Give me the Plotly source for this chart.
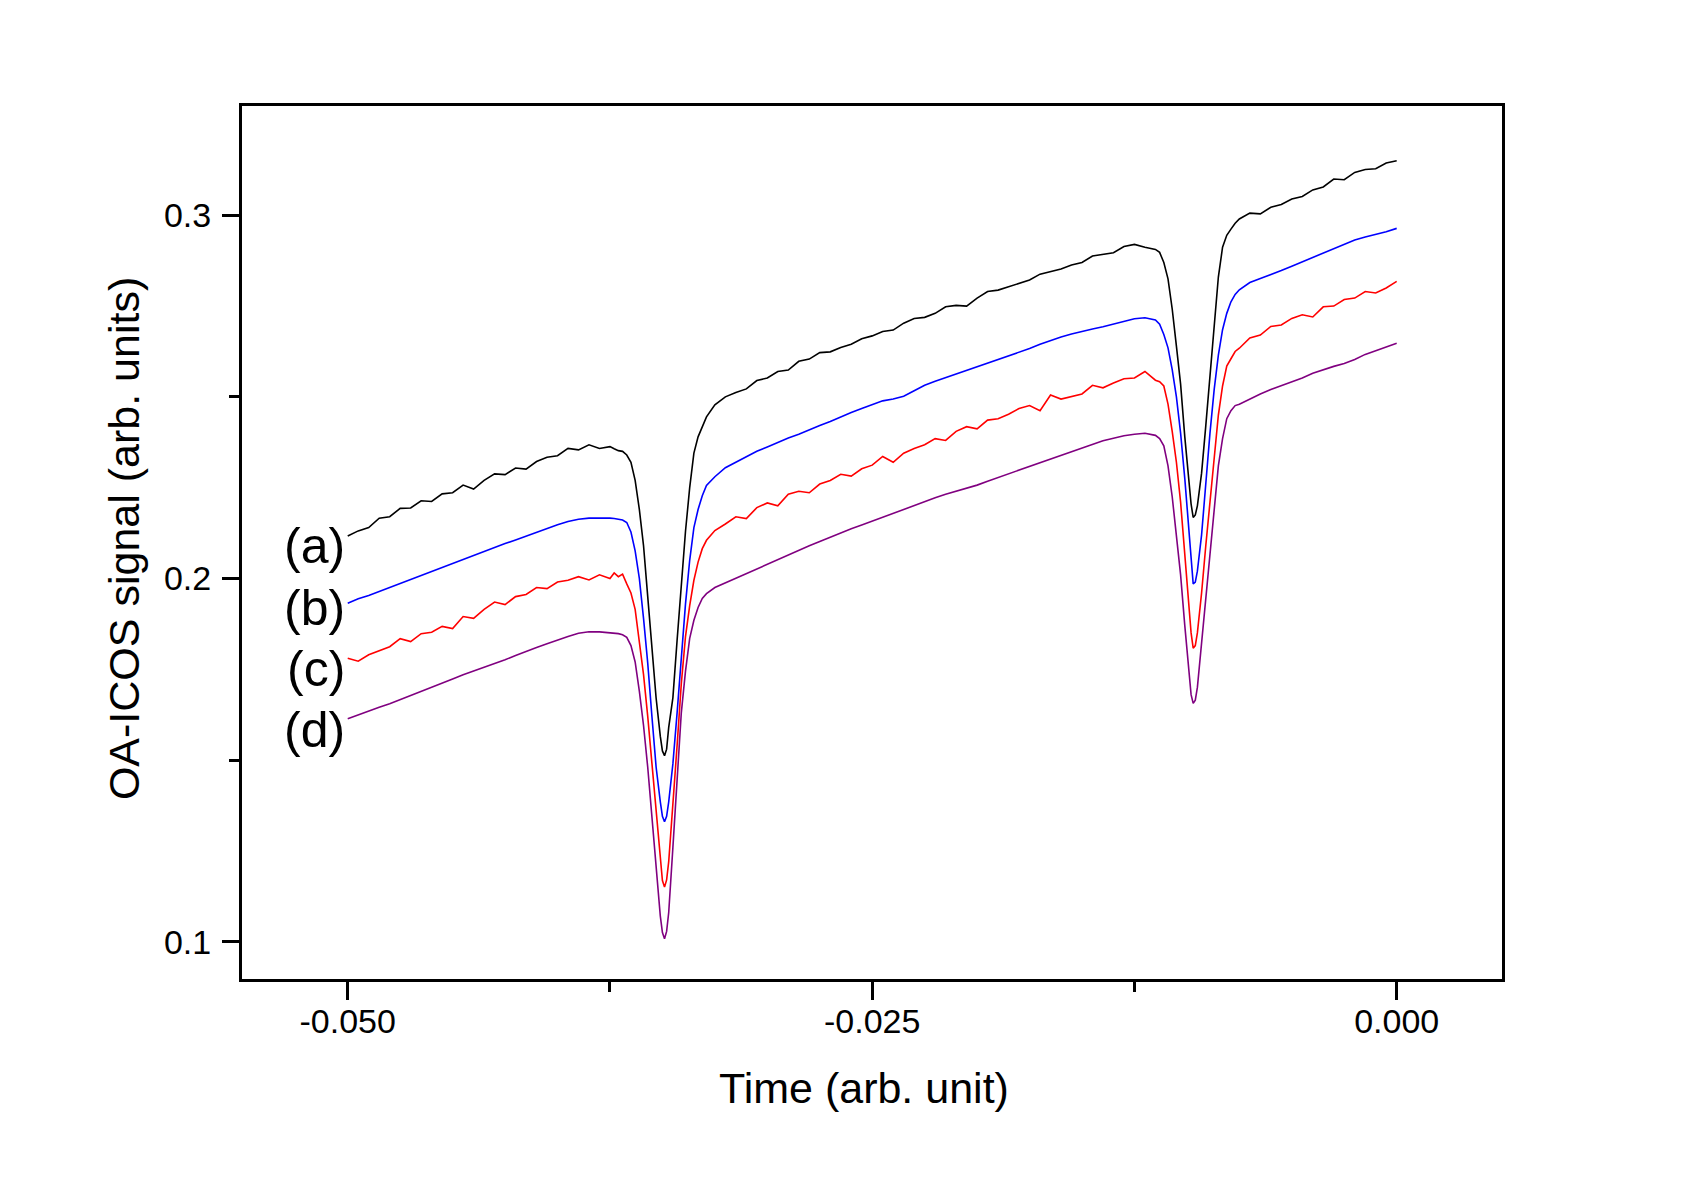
import plotly.graph_objects as go

# ---------------- data ----------------
TIME = [
    -0.0500, -0.0495, -0.0490, -0.0485, -0.0480, -0.0475, -0.0470, -0.0465, -0.0460, -0.0455,
    -0.0450, -0.0445, -0.0440, -0.0435, -0.0430, -0.0425, -0.0420, -0.0415, -0.0410, -0.0405,
    -0.0400, -0.0395, -0.0390, -0.0385, -0.0380, -0.0375,
    -0.0373, -0.0371, -0.0369, -0.0367, -0.0365, -0.0363, -0.0361, -0.0359, -0.0357, -0.0355,
    -0.0353, -0.0351, -0.0350, -0.0349, -0.0348, -0.0347, -0.0345, -0.0343, -0.0341, -0.0339,
    -0.0337, -0.0335, -0.0333, -0.0331, -0.0329,
    -0.0325, -0.0320, -0.0315, -0.0310, -0.0305, -0.0300, -0.0295, -0.0290, -0.0285, -0.0280,
    -0.0275, -0.0270, -0.0265, -0.0260, -0.0255, -0.0250, -0.0245, -0.0240, -0.0235, -0.0230,
    -0.0225, -0.0220, -0.0215, -0.0210, -0.0205, -0.0200, -0.0195, -0.0190, -0.0185, -0.0180,
    -0.0175, -0.0170, -0.0165, -0.0160, -0.0155, -0.0150, -0.0145, -0.0140, -0.0135, -0.0130,
    -0.0125, -0.0120, -0.0115,
    -0.0113, -0.0111, -0.0109, -0.0107, -0.0105, -0.0103, -0.0101, -0.0099, -0.0098, -0.0097,
    -0.0096, -0.0095, -0.0093, -0.0091, -0.0089, -0.0087, -0.0085, -0.0083, -0.0081, -0.0079,
    -0.0077,
    -0.0075, -0.0070, -0.0065, -0.0060, -0.0055, -0.0050, -0.0045, -0.0040, -0.0035, -0.0030,
    -0.0025, -0.0020, -0.0015, -0.0010, -0.0005, 0.0000,
]

SIGNAL_A = [
    0.2117, 0.2131, 0.2140, 0.2166, 0.2170, 0.2193, 0.2194, 0.2214, 0.2212, 0.2233,
    0.2236, 0.2257, 0.2246, 0.2270, 0.2288, 0.2286, 0.2304, 0.2301, 0.2322, 0.2334,
    0.2338, 0.2358, 0.2354, 0.2368, 0.2358, 0.2363,
    0.2357, 0.2352, 0.2350, 0.2340, 0.2320, 0.2270, 0.2190, 0.2090, 0.1950, 0.1800,
    0.1670, 0.1565, 0.1525, 0.1512, 0.1530, 0.1590, 0.1672, 0.1830, 0.1990, 0.2130,
    0.2250, 0.2345, 0.2390, 0.2418, 0.2445,
    0.2478, 0.2500, 0.2512, 0.2522, 0.2545, 0.2552, 0.2570, 0.2574, 0.2598, 0.2604,
    0.2622, 0.2624, 0.2636, 0.2645, 0.2660, 0.2668, 0.2680, 0.2684, 0.2703, 0.2716,
    0.2719, 0.2730, 0.2748, 0.2752, 0.2750, 0.2772, 0.2790, 0.2794, 0.2803, 0.2812,
    0.2822, 0.2838, 0.2846, 0.2852, 0.2863, 0.2870, 0.2888, 0.2893, 0.2897, 0.2914,
    0.2920, 0.2912, 0.2906,
    0.2898, 0.2870, 0.2825, 0.2742, 0.2640, 0.2535, 0.2390, 0.2262, 0.2205, 0.2168,
    0.2175, 0.2200, 0.2290, 0.2420, 0.2560, 0.2715, 0.2830, 0.2912, 0.2945, 0.2962,
    0.2978,
    0.2990, 0.3006, 0.3004, 0.3022, 0.3030, 0.3045, 0.3052, 0.3070, 0.3078, 0.3100,
    0.3098, 0.3118, 0.3126, 0.3128, 0.3144, 0.3150,
]

SIGNAL_B = [
    0.1932, 0.1944, 0.1953, 0.1964, 0.1975, 0.1986, 0.1997, 0.2010, 0.2021, 0.2031,
    0.2042, 0.2053, 0.2064, 0.2074, 0.2085, 0.2096, 0.2106, 0.2117, 0.2128, 0.2138,
    0.2148, 0.2157, 0.2163, 0.2166, 0.2167, 0.2166,
    0.2165, 0.2164, 0.2161, 0.2154, 0.2128, 0.2076, 0.2000, 0.1890, 0.1767, 0.1620,
    0.1480, 0.1385, 0.1345, 0.1330, 0.1345, 0.1385, 0.1490, 0.1630, 0.1780, 0.1930,
    0.2050, 0.2140, 0.2190, 0.2228, 0.2256,
    0.2280, 0.2305, 0.2320, 0.2335, 0.2350, 0.2362, 0.2375, 0.2387, 0.2397, 0.2410,
    0.2421, 0.2432, 0.2445, 0.2457, 0.2468, 0.2479, 0.2489, 0.2494, 0.2502, 0.2517,
    0.2532, 0.2543, 0.2553, 0.2563, 0.2573, 0.2584, 0.2594, 0.2603, 0.2612, 0.2622,
    0.2633, 0.2645, 0.2656, 0.2665, 0.2673, 0.2681, 0.2687, 0.2693, 0.2700, 0.2708,
    0.2715, 0.2718, 0.2712,
    0.2700, 0.2672, 0.2635, 0.2575, 0.2500, 0.2400, 0.2275, 0.2130, 0.2040, 0.1985,
    0.1990, 0.2020, 0.2120, 0.2265, 0.2400, 0.2520, 0.2615, 0.2685, 0.2730, 0.2762,
    0.2782,
    0.2795, 0.2815, 0.2826, 0.2836, 0.2848, 0.2860, 0.2872, 0.2884, 0.2897, 0.2910,
    0.2921, 0.2932, 0.2940, 0.2947, 0.2955, 0.2964,
]

SIGNAL_C = [
    0.1780, 0.1772, 0.1790, 0.1800, 0.1812, 0.1834, 0.1826, 0.1848, 0.1852, 0.1868,
    0.1862, 0.1895, 0.1890, 0.1915, 0.1935, 0.1928, 0.1950, 0.1956, 0.1975, 0.1972,
    0.1990, 0.1995, 0.2005, 0.1996, 0.2010, 0.2000,
    0.2015, 0.2005, 0.2012, 0.1985, 0.1960, 0.1915, 0.1830, 0.1735, 0.1620, 0.1490,
    0.1340, 0.1210, 0.1168, 0.1150, 0.1170, 0.1220, 0.1370, 0.1540, 0.1710, 0.1840,
    0.1925, 0.1995, 0.2045, 0.2082, 0.2105,
    0.2132, 0.2150, 0.2170, 0.2165, 0.2195, 0.2208, 0.2200, 0.2232, 0.2240, 0.2236,
    0.2260, 0.2270, 0.2287, 0.2282, 0.2302, 0.2312, 0.2336, 0.2320, 0.2345, 0.2358,
    0.2368, 0.2385, 0.2380, 0.2405, 0.2418, 0.2412, 0.2436, 0.2440, 0.2452, 0.2468,
    0.2476, 0.2462, 0.2505, 0.2494, 0.2502, 0.2508, 0.2532, 0.2525, 0.2538, 0.2550,
    0.2552, 0.2570, 0.2546,
    0.2542, 0.2530, 0.2480, 0.2405, 0.2320, 0.2210, 0.2070, 0.1920, 0.1850, 0.1808,
    0.1815, 0.1850, 0.1960, 0.2090, 0.2210, 0.2330, 0.2450, 0.2530, 0.2585, 0.2605,
    0.2625,
    0.2634, 0.2662, 0.2670, 0.2694, 0.2698, 0.2716, 0.2726, 0.2720, 0.2748, 0.2750,
    0.2768, 0.2772, 0.2790, 0.2786, 0.2800, 0.2818,
]

SIGNAL_D = [
    0.1614, 0.1625, 0.1635, 0.1645, 0.1655, 0.1666, 0.1677, 0.1689, 0.1700, 0.1712,
    0.1723, 0.1735, 0.1745, 0.1755, 0.1765, 0.1776, 0.1788, 0.1800, 0.1810, 0.1820,
    0.1831, 0.1840, 0.1849, 0.1853, 0.1853, 0.1851,
    0.1850, 0.1848, 0.1845, 0.1838, 0.1815, 0.1770, 0.1690, 0.1595, 0.1480, 0.1345,
    0.1200, 0.1070, 0.1025, 0.1008, 0.1028, 0.1080, 0.1260, 0.1450, 0.1630, 0.1745,
    0.1835, 0.1885, 0.1920, 0.1945, 0.1958,
    0.1975, 0.1988, 0.2000, 0.2014, 0.2027, 0.2040, 0.2053, 0.2065, 0.2078, 0.2090,
    0.2102, 0.2114, 0.2126, 0.2137, 0.2147, 0.2158, 0.2168, 0.2180, 0.2190, 0.2202,
    0.2212, 0.2222, 0.2232, 0.2240, 0.2247, 0.2257, 0.2268, 0.2278, 0.2288, 0.2298,
    0.2308, 0.2318, 0.2330, 0.2340, 0.2350, 0.2360, 0.2370, 0.2379, 0.2386, 0.2393,
    0.2397, 0.2400, 0.2394,
    0.2385, 0.2365, 0.2310, 0.2225, 0.2125, 0.2010, 0.1870, 0.1730, 0.1680, 0.1656,
    0.1665, 0.1700, 0.1820, 0.1950, 0.2075, 0.2190, 0.2310, 0.2385, 0.2440, 0.2462,
    0.2476,
    0.2480, 0.2495, 0.2508, 0.2520, 0.2530, 0.2540, 0.2552, 0.2565, 0.2575, 0.2584,
    0.2592, 0.2603, 0.2617, 0.2628, 0.2638, 0.2648,
]

SERIES_NAMES = ["(a)", "(b)", "(c)", "(d)"]
SERIES_COLORS = ["#000000", "#0000FF", "#FF0000", "#800080"]
LABEL_Y = [0.2089, 0.1920, 0.1752, 0.1583]

X_TICKS = [-0.050, -0.025, 0.000]
X_TICK_TEXT = ["-0.050", "-0.025", "0.000"]
X_MINOR = [-0.0375, -0.0125]
Y_TICKS = [0.1, 0.2, 0.3]
Y_TICK_TEXT = ["0.1", "0.2", "0.3"]
Y_MINOR = [0.15, 0.25]

# ---------------- figure ----------------
FONT = "Liberation Sans, Arial, Helvetica, sans-serif"
fig = go.Figure()
for name, ys, col in zip(SERIES_NAMES, [SIGNAL_A, SIGNAL_B, SIGNAL_C, SIGNAL_D], SERIES_COLORS):
    fig.add_trace(go.Scatter(x=TIME, y=ys, mode="lines", name=name,
                             line=dict(color=col, width=1.6), showlegend=False))

for name, ly in zip(SERIES_NAMES, LABEL_Y):
    fig.add_annotation(x=TIME[0], y=ly, xref="x", yref="y", text=name, showarrow=False,
                       xanchor="right", yanchor="middle", xshift=-1,
                       font=dict(family=FONT, size=50, color="black"))

fig.add_annotation(x=0.4937, y=-0.1245, xref="paper", yref="paper", text="Time (arb. unit)",
                   showarrow=False, xanchor="center", yanchor="middle",
                   font=dict(family=FONT, size=43, color="black"))
fig.add_annotation(x=-0.0937, y=0.505, xref="paper", yref="paper",
                   text="OA-ICOS signal (arb. units)", textangle=-90,
                   showarrow=False, xanchor="center", yanchor="middle",
                   font=dict(family=FONT, size=43, color="black"))

axis_common = dict(showline=True, linecolor="black", linewidth=3, mirror=True,
                   showgrid=False, zeroline=False, ticks="outside", tickcolor="black",
                   tickwidth=2.8, tickfont=dict(family=FONT, size=34, color="black"))

fig.update_xaxes(range=[-0.05504, 0.00502], tickmode="array", tickvals=X_TICKS,
                 ticktext=X_TICK_TEXT, ticklen=18, ticklabelstandoff=-8,
                 minor=dict(tickmode="array", tickvals=X_MINOR, ticklen=10, ticks="outside",
                            tickwidth=2.8, tickcolor="black", showgrid=False),
                 **axis_common)
fig.update_yaxes(range=[0.0897, 0.3301], tickmode="array", tickvals=Y_TICKS,
                 ticktext=Y_TICK_TEXT, ticklen=17, ticklabelstandoff=4,
                 minor=dict(tickmode="array", tickvals=Y_MINOR, ticklen=10, ticks="outside",
                            tickwidth=2.8, tickcolor="black", showgrid=False),
                 **axis_common)

# the page adds a small body margin, so the figure is drawn a few px in from the window edge
fig.update_layout(width=1689, height=1168, autosize=False,
                  margin=dict(l=234, r=195, t=98, b=197, pad=0),
                  plot_bgcolor="white", paper_bgcolor="white",
                  font=dict(family=FONT, color="black"))

fig.write_html("out.html")
